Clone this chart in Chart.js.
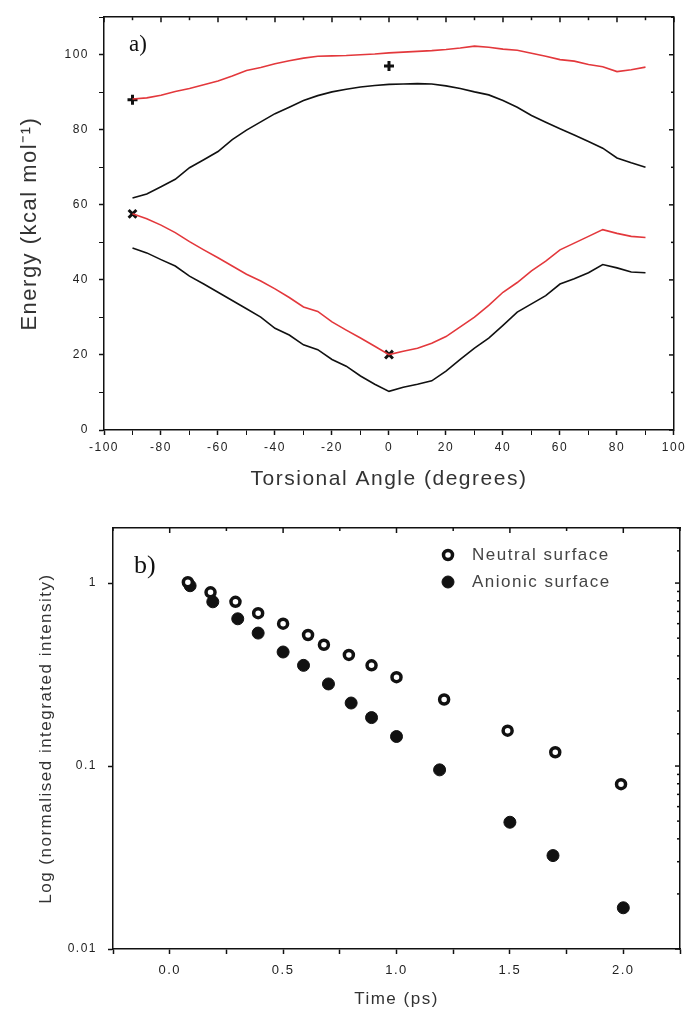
<!DOCTYPE html>
<html>
<head>
<meta charset="utf-8">
<script src="https://cdn.jsdelivr.net/npm/chart.js@4.4.1/dist/chart.umd.min.js"></script>
<style>
  body { margin: 0; background: #fff; }
  .panel { position: absolute; left: 0; width: 689px; }
  #panelA { top: 0; height: 500px; }
  #panelB { top: 500px; height: 510px; }
</style>
</head>
<body>
<div class="panel" id="panelA"><canvas id="energyChart"></canvas></div>
<div class="panel" id="panelB"><canvas id="decayChart"></canvas></div>
<script>
// =========================
// Data - panel a)
// =========================

const angles = [-90, -85, -80, -75, -70, -65, -60, -55, -50, -45, -40, -35, -30, -25, -20, -15, -10, -5,
  0, 5, 10, 15, 20, 25, 30, 35, 40, 45, 50, 55, 60, 65, 70, 75, 80, 85, 90];

const redUpper = [88.2, 88.5, 89.2, 90.2, 91.0, 92.0, 93.0, 94.3, 95.8, 96.6, 97.6, 98.4, 99.1, 99.6, 99.7, 99.8, 100.0, 100.2,
  100.5, 100.7, 100.9, 101.1, 101.4, 101.8, 102.3, 102.0, 101.5, 101.2, 100.4, 99.6, 98.7, 98.3, 97.4, 96.8, 95.5, 96.0, 96.7];

const blackUpper = [61.8, 62.9, 64.8, 66.8, 69.9, 72.0, 74.2, 77.4, 79.9, 82.1, 84.3, 86.0, 87.8, 89.1, 90.1, 90.8, 91.4, 91.8,
  92.1, 92.2, 92.3, 92.2, 91.7, 91.0, 90.1, 89.3, 87.8, 86.0, 83.8, 82.0, 80.3, 78.6, 76.9, 75.1, 72.5, 71.2, 70.0];

const redLower = [57.6, 56.3, 54.6, 52.6, 50.2, 48.0, 45.9, 43.7, 41.5, 39.7, 37.6, 35.3, 32.8, 31.6, 28.8, 26.6, 24.5, 22.3,
  20.1, 21.0, 21.8, 23.1, 24.9, 27.5, 30.1, 33.2, 36.7, 39.3, 42.4, 45.0, 48.0, 49.8, 51.6, 53.4, 52.4, 51.6, 51.3];

const blackLower = [48.5, 47.2, 45.4, 43.7, 41.0, 38.9, 36.7, 34.5, 32.3, 30.1, 27.1, 25.3, 22.7, 21.4, 18.8, 17.0, 14.4, 12.2,
  10.3, 11.4, 12.2, 13.1, 15.7, 18.8, 21.8, 24.5, 27.9, 31.4, 33.6, 35.8, 38.9, 40.3, 41.9, 44.1, 43.2, 42.1, 41.9];

const plusAngles = [-90, 0];
const plusEnergies = [88, 97];
const crossAngles = [-90, 0];
const crossEnergies = [57.6, 20.1];

// =========================
// Data - panel b)
// =========================

const neutralTimes = [0.08, 0.18, 0.29, 0.39, 0.5, 0.61, 0.68, 0.79, 0.89, 1.0, 1.21, 1.49, 1.7, 1.99];
const neutralValues = [1.01, 0.89, 0.79, 0.685, 0.6, 0.52, 0.46, 0.405, 0.355, 0.306, 0.231, 0.156, 0.119, 0.0796];

const anionicTimes = [0.09, 0.19, 0.3, 0.39, 0.5, 0.59, 0.7, 0.8, 0.89, 1.0, 1.19, 1.5, 1.69, 2.0];
const anionicValues = [0.967, 0.79, 0.638, 0.533, 0.42, 0.355, 0.281, 0.221, 0.184, 0.145, 0.0953, 0.0493, 0.0324, 0.0168];

const legendLabels = ["Neutral surface", "Anionic surface"];

// =========================
// Helpers
// =========================

function toPoints(xs, ys) {
  return xs.map((x, i) => ({ x, y: ys[i] }));
}

function fixedSize(prop, size) {
  return (scale) => { scale[prop] = size; };
}

// the scanned figure has loosely spaced lettering
const spacedText = {
  id: "spacedText",
  beforeDraw(chart, args, opts) {
    chart.ctx.letterSpacing = opts.spacing;
  },
  afterDraw(chart) {
    chart.ctx.letterSpacing = "0px";
  },
};

// inward ticks on the top and right edges, placed through the chart's scales
const mirrorTicks = {
  id: "mirrorTicks",
  afterDraw(chart, args, opts) {
    const { ctx, chartArea: a, scales } = chart;
    ctx.save();
    ctx.strokeStyle = "#111";
    ctx.lineWidth = 1.5;
    scales.x.ticks.forEach((t) => {
      const px = scales.x.getPixelForValue(t.value);
      const len = opts.isMajorX(t.value) ? 5 : 3;
      ctx.beginPath();
      ctx.moveTo(px, a.top);
      ctx.lineTo(px, a.top + len);
      ctx.stroke();
    });
    scales.y.ticks.forEach((t) => {
      const py = scales.y.getPixelForValue(t.value);
      const len = opts.isMajorY(t.value) ? 5 : 3;
      ctx.beginPath();
      ctx.moveTo(a.right, py);
      ctx.lineTo(a.right - len, py);
      ctx.stroke();
    });
    ctx.restore();
  },
};

const panelLabel = {
  id: "panelLabel",
  afterDraw(chart, args, opts) {
    const { ctx } = chart;
    ctx.save();
    ctx.letterSpacing = "0px";
    ctx.fillStyle = "#111";
    ctx.font = opts.font;
    ctx.textBaseline = "middle";
    ctx.fillText(opts.text, opts.x, opts.y);
    ctx.restore();
  },
};

const isDecade = (v) => Math.abs(Math.log10(v) - Math.round(Math.log10(v))) < 1e-9;
const isHalf = (v) => Math.abs(v * 2 - Math.round(v * 2)) < 1e-9;

const sans = "'Liberation Sans', Arial, sans-serif";
const tickFont = { family: sans, size: 12 };

// =========================
// Panel a)
// =========================

function renderEnergyChart() {
  const lineStyle = (color) => ({
    showLine: true,
    borderColor: color,
    borderWidth: 1.6,
    pointRadius: 0,
    tension: 0,
  });

  new Chart(document.getElementById("energyChart"), {
    type: "scatter",
    data: {
      datasets: [
        { data: toPoints(angles, redUpper), ...lineStyle("#e3383c") },
        { data: toPoints(angles, blackUpper), ...lineStyle("#111") },
        { data: toPoints(angles, redLower), ...lineStyle("#e3383c") },
        { data: toPoints(angles, blackLower), ...lineStyle("#111") },
        {
          data: toPoints(plusAngles, plusEnergies),
          pointStyle: "cross",
          pointRadius: 5,
          borderColor: "#111",
          borderWidth: 3,
        },
        {
          data: toPoints(crossAngles, crossEnergies),
          pointStyle: "crossRot",
          pointRadius: 5.5,
          borderColor: "#111",
          borderWidth: 3,
        },
      ],
    },
    options: {
      responsive: true,
      maintainAspectRatio: false,
      animation: false,
      layout: { padding: 0 },
      plugins: {
        legend: { display: false },
        tooltip: { enabled: false },
        spacedText: { spacing: "1.5px" },
        mirrorTicks: {
          isMajorX: (v) => v % 20 === 0,
          isMajorY: (v) => v % 20 === 0,
        },
        panelLabel: { text: "a)", x: 129, y: 45, font: "23px 'Liberation Serif', 'DejaVu Serif', serif" },
      },
      scales: {
        x: {
          type: "linear",
          min: -100,
          max: 100,
          afterFit: fixedSize("height", 70),
          border: { color: "#111", width: 1.5 },
          grid: {
            drawOnChartArea: false,
            tickLength: 5,
            tickColor: "#111",
            tickWidth: (c) => (c.tick && c.tick.value % 20 === 0 ? 1.5 : 1),
          },
          ticks: {
            stepSize: 10,
            autoSkip: false,
            maxRotation: 0,
            padding: 5,
            color: "#222",
            font: tickFont,
            callback: (v) => (v % 20 === 0 ? String(v) : ""),
          },
          title: {
            display: true,
            text: "Torsional Angle (degrees)",
            color: "#333",
            font: { family: sans, size: 21 },
            padding: { top: 0, bottom: 8 },
          },
        },
        x2: {
          type: "linear",
          position: "top",
          min: -100,
          max: 100,
          afterFit: fixedSize("height", 11),
          border: { color: "#111", width: 1.5 },
          grid: { drawOnChartArea: false, drawTicks: false },
          ticks: { display: false },
        },
        y: {
          min: 0,
          max: 110,
          afterFit: fixedSize("width", 104),
          border: { color: "#111", width: 1.5 },
          grid: {
            drawOnChartArea: false,
            tickLength: 5,
            tickColor: "#111",
            tickWidth: (c) => (c.tick && c.tick.value % 20 === 0 ? 1.5 : 1),
          },
          ticks: {
            stepSize: 10,
            autoSkip: false,
            padding: 10,
            color: "#222",
            font: tickFont,
            callback: (v) => (v % 20 === 0 ? String(v) : ""),
          },
          title: {
            display: true,
            text: "Energy (kcal mol⁻¹)",
            color: "#333",
            font: { family: sans, size: 22 },
            padding: { top: 17, bottom: 0 },
          },
        },
        y2: {
          position: "right",
          min: 0,
          max: 110,
          afterFit: fixedSize("width", 15),
          border: { color: "#111", width: 1.5 },
          grid: { drawOnChartArea: false, drawTicks: false },
          ticks: { display: false },
        },
      },
    },
    plugins: [spacedText, mirrorTicks, panelLabel],
  });
}

// =========================
// Panel b)
// =========================

const decayLegend = {
  id: "decayLegend",
  afterDraw(chart, args, opts) {
    const { ctx } = chart;
    ctx.save();
    ctx.letterSpacing = "1.5px";
    ctx.font = "17px " + sans;
    ctx.textBaseline = "middle";
    legendLabels.forEach((label, i) => {
      const ds = chart.data.datasets[i];
      const y = opts.y + i * opts.gap;
      ctx.beginPath();
      ctx.arc(opts.x, y, ds.pointRadius, 0, Math.PI * 2);
      ctx.fillStyle = ds.pointBackgroundColor;
      ctx.fill();
      ctx.lineWidth = ds.pointBorderWidth;
      ctx.strokeStyle = ds.pointBorderColor;
      ctx.stroke();
      ctx.fillStyle = "#444";
      ctx.fillText(label, opts.x + 24, y);
    });
    ctx.restore();
  },
};

function renderDecayChart() {
  new Chart(document.getElementById("decayChart"), {
    type: "scatter",
    data: {
      datasets: [
        {
          data: toPoints(neutralTimes, neutralValues),
          pointRadius: 4.5,
          pointBackgroundColor: "#fff",
          pointBorderColor: "#111",
          pointBorderWidth: 3.5,
        },
        {
          data: toPoints(anionicTimes, anionicValues),
          pointRadius: 6,
          pointBackgroundColor: "#111",
          pointBorderColor: "#111",
          pointBorderWidth: 1,
        },
      ],
    },
    options: {
      responsive: true,
      maintainAspectRatio: false,
      animation: false,
      layout: { padding: 0 },
      plugins: {
        legend: { display: false },
        tooltip: { enabled: false },
        spacedText: { spacing: "1.5px" },
        mirrorTicks: {
          isMajorX: isHalf,
          isMajorY: isDecade,
        },
        panelLabel: { text: "b)", x: 134, y: 66, font: "26px 'Liberation Serif', 'DejaVu Serif', serif" },
        decayLegend: { x: 448, y: 55, gap: 27 },
      },
      scales: {
        x: {
          type: "linear",
          min: -0.25,
          max: 2.25,
          afterFit: fixedSize("height", 61),
          border: { color: "#111", width: 1.5 },
          grid: {
            drawOnChartArea: false,
            tickLength: 5,
            tickColor: "#111",
            tickWidth: 1.5,
          },
          ticks: {
            stepSize: 0.25,
            autoSkip: false,
            maxRotation: 0,
            padding: 9,
            color: "#222",
            font: { family: sans, size: 13 },
            callback: (v) => (isHalf(v) && v >= 0 ? v.toFixed(1) : ""),
          },
          title: {
            display: true,
            text: "Time (ps)",
            color: "#333",
            font: { family: sans, size: 17 },
            padding: { top: 0, bottom: 0 },
          },
        },
        x2: {
          type: "linear",
          position: "top",
          min: -0.25,
          max: 2.25,
          afterFit: fixedSize("height", 28),
          border: { color: "#111", width: 1.5 },
          grid: { drawOnChartArea: false, drawTicks: false },
          ticks: { display: false },
        },
        y: {
          type: "logarithmic",
          min: 0.01,
          max: 2,
          afterFit: fixedSize("width", 113),
          border: { color: "#111", width: 1.5 },
          grid: {
            drawOnChartArea: false,
            tickLength: 5,
            tickColor: "#111",
            tickWidth: (c) => (c.tick && isDecade(c.tick.value) ? 1.5 : 0),
          },
          ticks: {
            autoSkip: false,
            padding: 11,
            color: "#222",
            font: tickFont,
            callback: (v) => (isDecade(v) ? String(Number(v.toPrecision(3))) : ""),
          },
          title: {
            display: true,
            text: "Log (normalised integrated intensity)",
            color: "#333",
            font: { family: sans, size: 17 },
            padding: { top: 36, bottom: 0 },
          },
        },
        y2: {
          type: "logarithmic",
          position: "right",
          min: 0.01,
          max: 2,
          afterFit: fixedSize("width", 1.5),
          border: { color: "#111", width: 1.5 },
          grid: { drawOnChartArea: false, drawTicks: false },
          ticks: { display: false },
        },
      },
    },
    plugins: [spacedText, mirrorTicks, panelLabel, decayLegend],
  });
}

// Inicialização
renderEnergyChart();
renderDecayChart();
</script>
</body>
</html>
